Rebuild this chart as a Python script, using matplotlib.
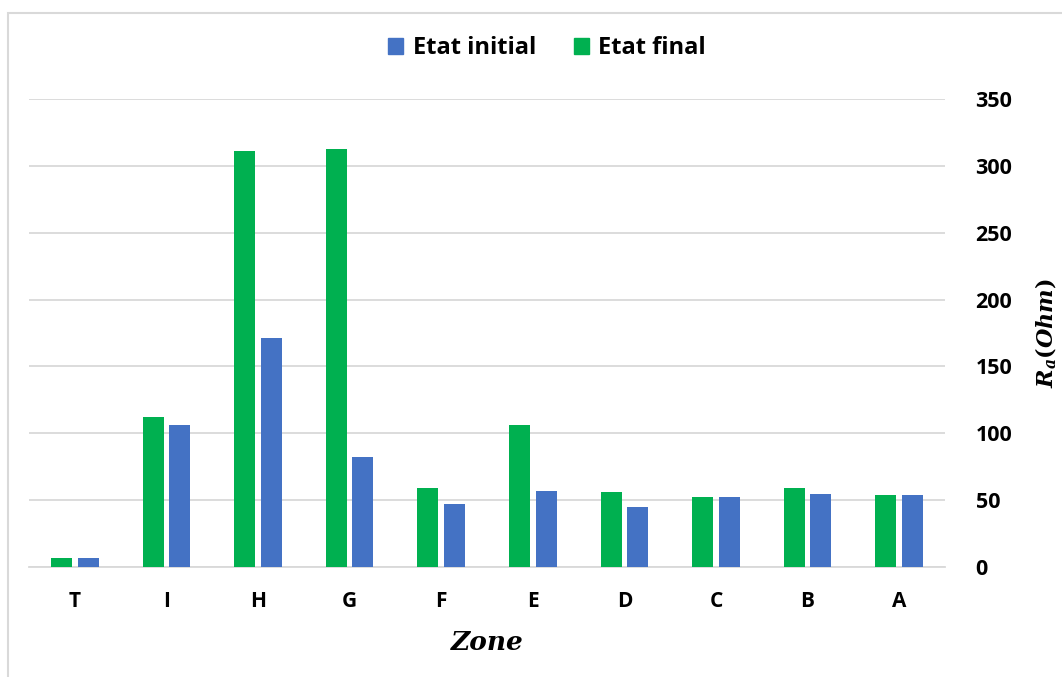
import matplotlib
matplotlib.use("Agg")
import matplotlib.pyplot as plt
import numpy as np
from matplotlib.patches import Rectangle, Patch

zones = ["T", "I", "H", "G", "F", "E", "D", "C", "B", "A"]
etat_initial = [6.5, 106, 171, 82.5, 47, 57, 45, 52, 54.5, 54]
etat_final = [6.5, 112.5, 311, 312.5, 59, 106, 56, 52, 59, 54]
yticks = [0, 50, 100, 150, 200, 250, 300, 350]

blue = "#4472C4"
green = "#00B050"
grid_c = "#D9D9D9"

plt.rcParams["mathtext.fontset"] = "custom"
plt.rcParams["mathtext.it"] = "DejaVu Serif:italic:bold"
plt.rcParams["mathtext.rm"] = "DejaVu Serif:bold"

fig = plt.figure(figsize=(10.62, 6.77), dpi=100)
ax = fig.add_axes([29/1062, 1-567/677, (945-29)/1062, (567-99)/677])

x = np.arange(len(zones))
w = 0.23
off = 0.145
ax.bar(x - off, etat_final, width=w, color=green, zorder=3)
ax.bar(x + off, etat_initial, width=w, color=blue, zorder=3)

ax.set_xlim(-0.5, len(zones) - 0.5)
ax.set_ylim(0, 350)
ax.set_xticks(x)
ax.set_xticklabels(zones, fontfamily="Open Sans", fontweight="bold", fontsize=15)
ax.set_yticks(yticks)
ax.set_yticklabels([str(v) for v in yticks], fontfamily="Open Sans", fontweight="bold", fontsize=15.5)
ax.yaxis.tick_right()
ax.tick_params(axis="y", length=0, pad=22)
ax.tick_params(axis="x", length=0, pad=17)
for s in ["top", "left", "right"]:
    ax.spines[s].set_visible(False)
ax.spines["bottom"].set_color(grid_c)
ax.spines["bottom"].set_linewidth(1.3)
ax.grid(axis="y", color=grid_c, linewidth=1.3, zorder=0)
ax.set_axisbelow(True)

fig.text(487/1062, 1-642/677, "Zone", ha="center", va="center",
         fontfamily="DejaVu Serif", fontstyle="italic", fontweight="bold", fontsize=19)
fig.text(1046/1062, 1-333/677, r"$R_a(Ohm)$", ha="center", va="center",
         rotation=90, fontsize=16)

handles = [Patch(color=blue, label="Etat initial"), Patch(color=green, label="Etat final")]
fig.legend(handles=handles, loc="center", bbox_to_anchor=(547/1062, 1-48/677), ncol=2,
           frameon=False, handlelength=0.65, handleheight=0.65, handletextpad=0.4,
           columnspacing=1.6, prop={"family": "Open Sans", "weight": "bold", "size": 17})

fig.patches.append(Rectangle((8/1062, -0.1), 1.5, 1 - 13/677 + 0.1, transform=fig.transFigure,
                             fill=False, edgecolor=grid_c, linewidth=1.5))

fig.savefig("out.png", dpi=100)
